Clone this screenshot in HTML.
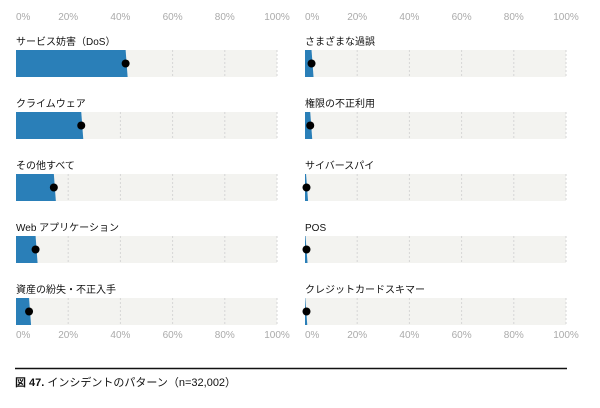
<!DOCTYPE html>
<html><head><meta charset="utf-8"><style>
body{margin:0;background:#fff;width:600px;height:403px;overflow:hidden;font-family:"Liberation Sans","Noto Sans CJK JP",sans-serif}
svg text{font-family:"Liberation Sans","Noto Sans CJK JP",sans-serif}
</style></head><body>
<svg id="c" width="600" height="403"></svg>
<script>
const leftCats=["サービス妨害（DoS）","クライムウェア","その他すべて","Web アプリケーション","資産の紛失・不正入手"];
const leftVals=[42,25,14.5,7.5,5];
const rightCats=["さまざまな過誤","権限の不正利用","サイバースパイ","POS","クレジットカードスキマー"];
const rightVals=[2.5,2,0.4,0.2,0.1];
const ticks=[0,20,40,60,80,100];
const NS="http://www.w3.org/2000/svg";
const svg=document.getElementById('c');
function el(t,a,p){const e=document.createElementNS(NS,t);for(const k in a)e.setAttribute(k,a[k]);(p||svg).appendChild(e);return e;}
const rowTop=50,rowStep=62,barH=27,pw=261;
function panel(x0,cats,vals,name){
  const g=el('g',{});
  
  
  const xs=v=>x0+v/100*pw;
  ticks.forEach(t=>{
    [20,338].forEach((y,i)=>{
      const tx=el('text',{x:xs(t),y:y,'font-size':10,fill:'#aaa','text-anchor':t===0?'start':'middle'},g);
      tx.textContent=t+'%';
      
      
    });
  });
  cats.forEach((c,i)=>{
    const y=rowTop+i*rowStep;
    const lb=el('text',{x:x0,y:y-5,'font-size':10,fill:'#111'},g);
    lb.textContent=c;
    
    
    const bg=el('rect',{x:x0,y:y,width:pw,height:barH,fill:'#f3f3f0'},g);
    
    
    ticks.slice(1).forEach(t=>{
      const gl=el('line',{x1:xs(t),x2:xs(t),y1:y,y2:y+barH,stroke:'#d6d6d6','stroke-dasharray':'2,2'},g);
      
      
    });
    const v=vals[i],xe=xs(v);
    const bar=el('polygon',{points:`${x0},${y} ${xe},${y} ${xe+2},${y+barH} ${x0},${y+barH}`,fill:'#2a7fb8'},g);
    
    
    const d=el('circle',{cx:Math.max(xs(v),x0+1.5),cy:y+13.5,r:4,fill:'#000'},g);
    
    
  });
}
panel(16,leftCats,leftVals,'left-panel');
panel(305,rightCats,rightVals,'right-panel');
const ln=el('line',{x1:15,x2:567,y1:368.5,y2:368.5,stroke:'#111','stroke-width':1.5});


const cap=el('text',{x:15,y:386,'font-size':11,fill:'#111'});


cap.innerHTML='<tspan font-weight="bold">図 47.</tspan> インシデントのパターン（n=32,002）';
</script>
</body></html>
